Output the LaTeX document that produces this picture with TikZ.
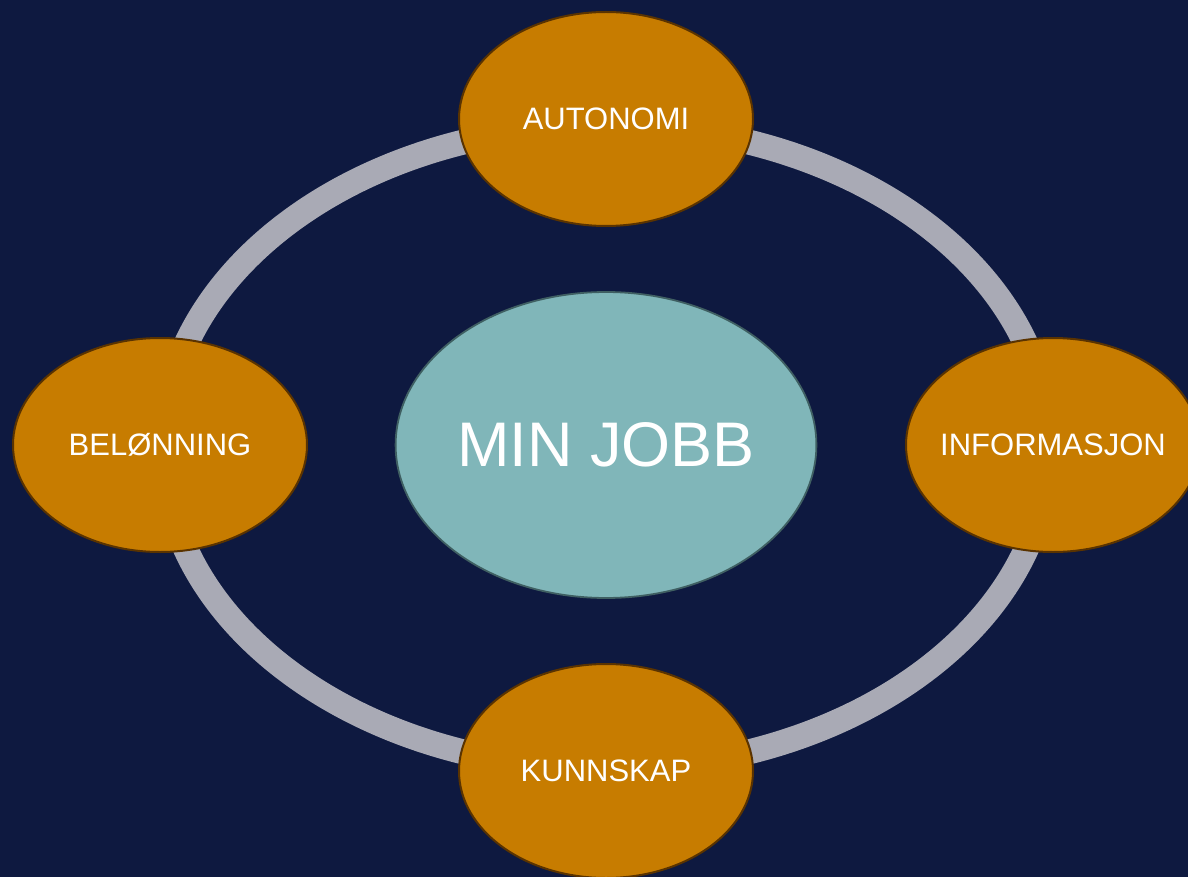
\documentclass[tikz,border=0pt]{standalone}
\usepackage{fontspec}
\setmainfont{Liberation Sans}
\usetikzlibrary{shapes.geometric, backgrounds}
\definecolor{slidebg}{HTML}{0E1940}
\definecolor{ringgray}{HTML}{A9AAB5}
\definecolor{factorfill}{HTML}{C77C00}
\definecolor{factorline}{HTML}{5A3300}
\definecolor{corefill}{HTML}{80B6B9}
\definecolor{coreline}{HTML}{3F5F62}
\tikzset{
    factor/.style = {ellipse, draw=factorline, line width=2pt, fill=factorfill,
                     text=white, inner sep=0pt, inner xsep=-40pt,
                     minimum width=294pt, minimum height=214pt,
                     font=\fontsize{31}{31}\selectfont},
    core/.style   = {ellipse, draw=coreline, line width=1.8pt, fill=corefill,
                     text=white, inner sep=0pt,
                     minimum width=420pt, minimum height=306pt,
                     font=\fontsize{63}{63}\selectfont},
    ring/.style   = {draw=ringgray, line width=25pt}
}

\begin{document}
\begin{tikzpicture}[x=1pt, y=-1pt]
    \useasboundingbox (0,0) rectangle (1188,877);

    \node (job) [core] at (606,445) {MIN JOBB};

    \foreach \Name/\X/\Y/\Text in {%
        auto/606/119/AUTONOMI,
        info/1053/445/INFORMASJON,
        know/606/771/KUNNSKAP,
        reward/160/445/BELØNNING%
    }
        \node (\Name) [factor] at (\X,\Y) {\Text};

    \begin{scope}[on background layer]
        \fill[slidebg] (0,0) rectangle (1188,877);
        \draw[ring] ([yshift=-2pt]job.center) ellipse [x radius=443pt, y radius=322pt];
    \end{scope}
\end{tikzpicture}
\end{document}
